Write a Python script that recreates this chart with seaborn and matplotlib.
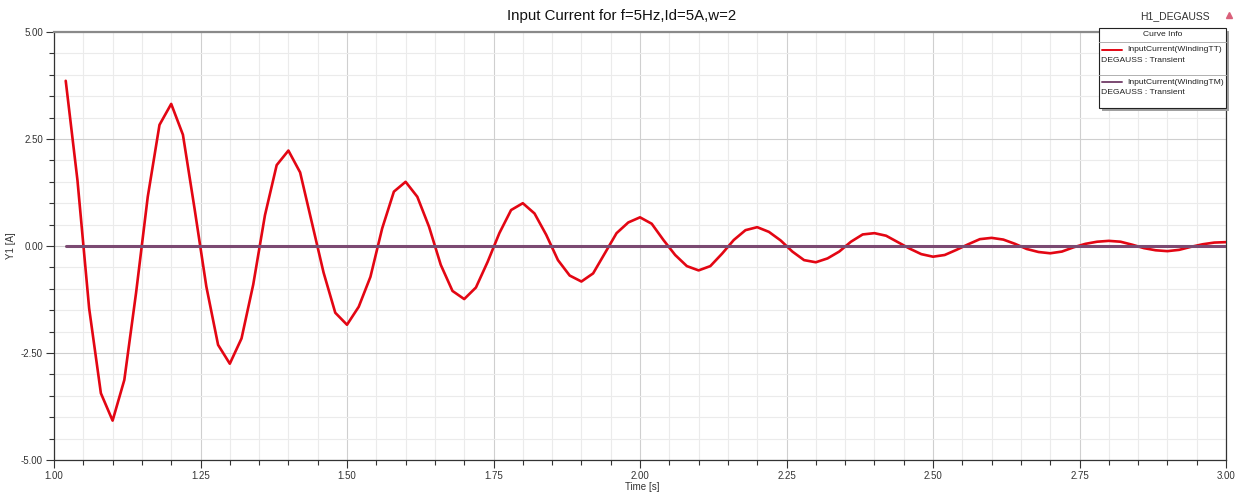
import numpy as np
import pandas as pd
import matplotlib
matplotlib.use("Agg")
import matplotlib.pyplot as plt
import seaborn as sns
from matplotlib.ticker import MultipleLocator, FormatStrFormatter
from matplotlib.patches import Rectangle
from matplotlib.lines import Line2D

# Sample times [s]
time_s = [
    1.02, 1.04, 1.06, 1.08, 1.10, 1.12, 1.14, 1.16, 1.18, 1.20,
    1.22, 1.24, 1.26, 1.28, 1.30, 1.32, 1.34, 1.36, 1.38, 1.40,
    1.42, 1.44, 1.46, 1.48, 1.50, 1.52, 1.54, 1.56, 1.58, 1.60,
    1.62, 1.64, 1.66, 1.68, 1.70, 1.72, 1.74, 1.76, 1.78, 1.80,
    1.82, 1.84, 1.86, 1.88, 1.90, 1.92, 1.94, 1.96, 1.98, 2.00,
    2.02, 2.04, 2.06, 2.08, 2.10, 2.12, 2.14, 2.16, 2.18, 2.20,
    2.22, 2.24, 2.26, 2.28, 2.30, 2.32, 2.34, 2.36, 2.38, 2.40,
    2.42, 2.44, 2.46, 2.48, 2.50, 2.52, 2.54, 2.56, 2.58, 2.60,
    2.62, 2.64, 2.66, 2.68, 2.70, 2.72, 2.74, 2.76, 2.78, 2.80,
    2.82, 2.84, 2.86, 2.88, 2.90, 2.92, 2.94, 2.96, 2.98, 3.00,
]

# InputCurrent(WindingTT) [A]
current_tt = [
    3.86, 1.54, -1.46, -3.44, -4.08, -3.13, -1.10, 1.15, 2.83, 3.32,
    2.60, 0.86, -0.95, -2.31, -2.75, -2.16, -0.90, 0.72, 1.89, 2.23,
    1.72, 0.55, -0.62, -1.56, -1.84, -1.42, -0.72, 0.41, 1.27, 1.50,
    1.15, 0.45, -0.44, -1.05, -1.24, -0.97, -0.37, 0.30, 0.84, 1.00,
    0.76, 0.26, -0.33, -0.69, -0.83, -0.64, -0.17, 0.30, 0.55, 0.67,
    0.52, 0.14, -0.21, -0.47, -0.57, -0.47, -0.18, 0.14, 0.37, 0.44,
    0.33, 0.13, -0.13, -0.33, -0.38, -0.29, -0.13, 0.10, 0.27, 0.30,
    0.24, 0.09, -0.06, -0.19, -0.25, -0.21, -0.09, 0.04, 0.16, 0.19,
    0.15, 0.05, -0.07, -0.14, -0.17, -0.13, -0.03, 0.05, 0.10, 0.12,
    0.10, 0.03, -0.05, -0.10, -0.12, -0.09, -0.02, 0.04, 0.08, 0.09,
]

# InputCurrent(WindingTM) [A]
current_tm = [0.0] * len(time_s)

series_names = ["InputCurrent(WindingTT)", "InputCurrent(WindingTM)"]
series_colors = ["#e30613", "#7b4a72"]
setup_name = "DEGAUSS : Transient"
title_text = "Input Current for f=5Hz,Id=5A,w=2"
plot_name = "H1_DEGAUSS"

sns.set_style("white")
plt.rcParams["font.family"] = ["Liberation Sans", "DejaVu Sans"]

W, H = 1241, 493
fig = plt.figure(figsize=(W / 100, H / 100), dpi=100)
ax = fig.add_axes([54 / W, 1 - 460 / H, (1226 - 54) / W, (460 - 32) / H])

df_tt = pd.DataFrame({"t": time_s, "I": current_tt})
df_tm = pd.DataFrame({"t": time_s, "I": current_tm})
sns.lineplot(data=df_tt, x="t", y="I", ax=ax, color=series_colors[0],
             linewidth=1.9, zorder=3)
sns.lineplot(data=df_tm, x="t", y="I", ax=ax, color=series_colors[1],
             linewidth=2.2, zorder=4)

ax.set_xlim(1.0, 3.0)
ax.set_ylim(-5.0, 5.0)
ax.xaxis.set_major_locator(MultipleLocator(0.25))
ax.xaxis.set_minor_locator(MultipleLocator(0.05))
ax.yaxis.set_major_locator(MultipleLocator(2.5))
ax.yaxis.set_minor_locator(MultipleLocator(0.5))
ax.xaxis.set_major_formatter(FormatStrFormatter("%.2f"))
ax.yaxis.set_major_formatter(FormatStrFormatter("%.2f"))

ax.grid(which="major", color="#cfcfcf", linewidth=0.8)
ax.grid(which="minor", color="#ebebeb", linewidth=0.8)
ax.set_axisbelow(True)

ax.tick_params(which="major", direction="out", length=6, width=0.8,
               color="#333333", labelsize=7, labelcolor="#333333", pad=2)
ax.tick_params(which="minor", direction="out", length=3.5, width=0.8,
               color="#333333")
ax.tick_params(axis="x", which="both", bottom=True)
ax.tick_params(axis="y", which="both", left=True)

for side in ["left", "bottom", "right"]:
    ax.spines[side].set_color("#333333")
    ax.spines[side].set_linewidth(0.9)
ax.spines["top"].set_color("#8a8a8a")
ax.spines["top"].set_linewidth(1.6)

ax.set_xlabel("Time [s]", fontsize=7, color="#333333")
ax.set_ylabel("Y1 [A]", fontsize=7, color="#333333")
ax.xaxis.set_label_coords(0.502, -0.052)
ax.yaxis.set_label_coords((16 - 54) / (1226 - 54), 0.5)

fig.text(622 / W, 1 - 16 / H, title_text, ha="center", va="center",
         fontsize=10.8, color="#111111")
fig.text(1175 / W, 1 - 16 / H, plot_name, ha="center", va="center",
         fontsize=7.5, color="#333333")
fig.add_artist(Line2D([1229 / W], [1 - 15 / H], marker="^", markersize=4,
                      color="#d9607a", linestyle="none",
                      transform=fig.transFigure))

# Curve info box
def px(x, y):
    return x / W, 1 - y / H

bx0, by0, bx1, by1 = 1099, 28, 1226, 108
fig.add_artist(Rectangle(px(bx0 + 3, by1 + 3), (bx1 - bx0) / W, (by1 - by0) / H,
                         transform=fig.transFigure, facecolor="#a0a0a0",
                         edgecolor="none", zorder=9))
fig.add_artist(Rectangle(px(bx0, by1), (bx1 - bx0) / W, (by1 - by0) / H,
                         transform=fig.transFigure, facecolor="white",
                         edgecolor="#222222", linewidth=0.8, zorder=10))
fig.text(*px((bx0 + bx1) / 2, 35), "Curve Info", ha="center", va="center",
         fontsize=6.1, color="#222222", zorder=11)
for yy in (42, 75):
    fig.add_artist(Line2D([bx0 / W, bx1 / W], [1 - yy / H, 1 - yy / H],
                          color="#b0b0b0", linewidth=0.7,
                          transform=fig.transFigure, zorder=11))
for i, (name, col) in enumerate(zip(series_names, series_colors)):
    y_line = 49.5 + i * 32.5
    fig.add_artist(Line2D([1102 / W, 1122 / W], [1 - y_line / H, 1 - y_line / H],
                          color=col, linewidth=1.4,
                          transform=fig.transFigure, zorder=11))
    fig.text(*px(1127, y_line), name, ha="left", va="center",
             fontsize=6.1, color="#222222", zorder=11)
    fig.text(*px(1101, y_line + 10.5), setup_name, ha="left", va="center",
             fontsize=6.1, color="#222222", zorder=11)

fig.savefig("out.png", dpi=100, facecolor="white")
